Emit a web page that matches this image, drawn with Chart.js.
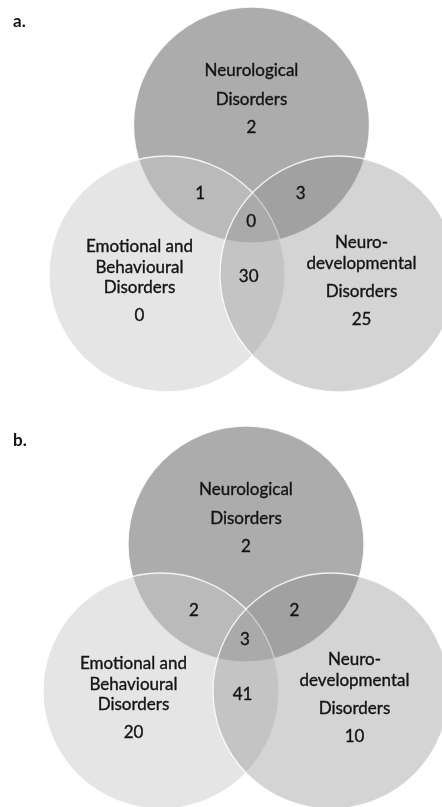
<!DOCTYPE html>
<html>
<head>
<meta charset="utf-8">
<script src="https://cdn.jsdelivr.net/npm/chart.js@4.4.0/dist/chart.umd.min.js"></script>
<style>
  body { margin: 0; background: #fff; }
  canvas { display: block; }
</style>
</head>
<body>
<canvas id="venn_a" width="442" height="400"></canvas>
<canvas id="venn_b" width="442" height="407"></canvas>
<script>
// sets, in draw order: top, left, right
var setNames = [
  ['Neurological', 'Disorders'],
  ['Emotional and', 'Behavioural', 'Disorders'],
  ['Neuro-', 'developmental', 'Disorders']
];
// regions: N, E, D, N+E, N+D, E+D, N+E+D
var regions = ['N', 'E', 'D', 'NE', 'ND', 'ED', 'NED'];
var countsA = [2, 0, 25, 1, 3, 30, 0];
var countsB = [2, 20, 10, 2, 2, 41, 3];
var panelLabels = ['a.', 'b.'];

// layout (panel pixel units)
var R = 118;
var centersA = [[251.5, 125], [167, 274], [338, 274]];
var centersB = [[246, 144], [161, 291], [331, 291]];
// name line offsets from circle centre, count offset
var nameOffsets = [
  { x: 0, lines: [-54, -25], count: 3 },
  { x: -27.5, lines: [-27.5, -6.5, 13.5], count: 42 },
  { x: 23.5, lines: [-31, -10, 18], count: 46 }
];
// overlap count offsets from centroid of the three centres
var overlapOffsets = { NE: [-52, -31], ND: [48.5, -31], ED: [-3.5, 52.5], NED: [-1, -2.5] };
var fills = ['#acacac', 'rgba(200,200,200,0.48)', 'rgba(145,145,145,0.39)'];

function drawText(ctx, s, x, y) {
  ctx.fillText(s, x, y);
  ctx.strokeText(s, x, y);
}

var textPlugin = {
  id: 'vennText',
  afterDatasetsDraw: function(chart, args, opts) {
    var ctx = chart.ctx, xs = chart.scales.x, ys = chart.scales.y;
    var c = opts.centers, counts = opts.counts;
    ctx.save();
    ctx.fillStyle = '#141414';
    ctx.strokeStyle = '#141414';
    ctx.lineWidth = 0.35;
    ctx.textAlign = 'center';
    ctx.textBaseline = 'middle';
    ctx.font = '17px Lato';
    for (var i = 0; i < 3; i++) {
      var o = nameOffsets[i];
      setNames[i].forEach(function(line, j) {
        drawText(ctx, line, xs.getPixelForValue(c[i][0] + o.x), ys.getPixelForValue(c[i][1] + o.lines[j]));
      });
      drawText(ctx, String(counts[i]), xs.getPixelForValue(c[i][0] + o.x), ys.getPixelForValue(c[i][1] + o.count));
    }
    var cx = (c[0][0] + c[1][0] + c[2][0]) / 3, cy = (c[0][1] + c[1][1] + c[2][1]) / 3;
    for (var k = 3; k < regions.length; k++) {
      var off = overlapOffsets[regions[k]];
      drawText(ctx, String(counts[k]), xs.getPixelForValue(cx + off[0]), ys.getPixelForValue(cy + off[1]));
    }
    ctx.font = 'bold 17px Lato';
    ctx.textAlign = 'left';
    ctx.fillText(opts.label, 13, opts.labelY);
    ctx.restore();
  }
};

function makeVenn(id, centers, counts, label, labelY, h) {
  var radius = function(ctx) {
    var s = ctx.chart.scales.x;
    return s.getPixelForValue(R) - s.getPixelForValue(0);
  };
  return new Chart(id, {
    type: 'scatter',
    data: {
      datasets: [{
        data: centers.map(function(p) { return { x: p[0], y: p[1] }; }),
        backgroundColor: fills,
        borderColor: 'rgba(255,255,255,0.85)',
        borderWidth: 1.3,
        pointRadius: radius,
        pointHoverRadius: radius,
        clip: false
      }]
    },
    options: {
      responsive: false,
      animation: false,
      events: [],
      layout: { padding: 0 },
      scales: {
        x: { type: 'linear', min: 0, max: 442, display: false },
        y: { type: 'linear', min: 0, max: h, reverse: true, display: false }
      },
      plugins: {
        legend: { display: false },
        tooltip: { enabled: false },
        vennText: { centers: centers, counts: counts, label: label, labelY: labelY }
      }
    },
    plugins: [textPlugin]
  });
}

makeVenn('venn_a', centersA, countsA, panelLabels[0], 22, 400);
makeVenn('venn_b', centersB, countsB, panelLabels[1], 41, 407);
</script>
</body>
</html>
